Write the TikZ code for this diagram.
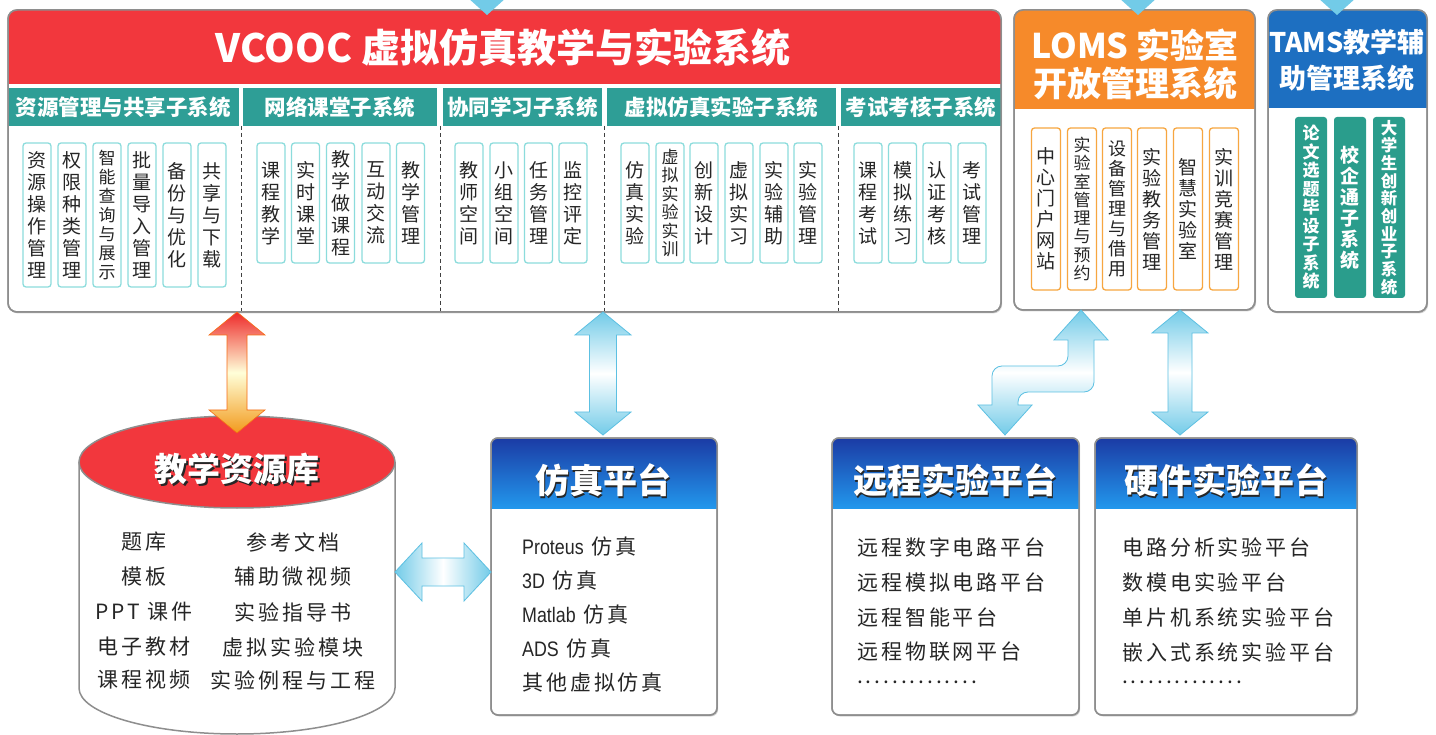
\documentclass[tikz,border=0pt]{standalone}
\usepackage{fontspec}
\setmainfont{Noto Sans CJK SC}
\newfontfamily\spaced{Noto Sans CJK SC}[LetterSpace=14]
\newfontfamily\latn{Liberation Sans}[FakeStretch=0.85]
\usetikzlibrary{calc,shadows}

\XeTeXlinebreaklocale "zh"
\XeTeXlinebreakskip=0pt plus 1pt

\definecolor{vred}{HTML}{F2373D}
\definecolor{bandteal}{HTML}{2E9E96}
\definecolor{subcyan}{HTML}{8CDCDC}
\definecolor{lomsorange}{HTML}{F68A2A}
\definecolor{lomsline}{HTML}{F7A640}
\definecolor{tamsblue}{HTML}{1D6FC1}
\definecolor{tamsteal}{HTML}{2A9D8C}
\definecolor{platdark}{HTML}{1B3BA5}
\definecolor{platlight}{HTML}{2297EC}
\definecolor{flowblue}{HTML}{72CBE8}
\definecolor{flowline}{HTML}{5CC0E2}
\definecolor{flowred}{HTML}{EE2A2A}
\definecolor{floworange}{HTML}{F29A1C}
\definecolor{boxgray}{HTML}{8E8E8E}
\definecolor{ink}{HTML}{262626}

\newcommand{\shtxt}[1]{\makebox[0pt][l]{\hspace{1.8pt}\raisebox{-1.8pt}{\color{black!85}#1}}#1}

% fat two-headed arrows: style, half shaft, first tip, second tip
\newcommand{\vfat}[4]{%
  \path[#1] let \p1=#3, \p2=#4 in
    (\x1,\y1) -- (\x1+28pt,\y1-23pt) -- (\x1+#2,\y1-23pt) -- (\x1+#2,\y2+23pt)
    -- (\x1+28pt,\y2+23pt) -- (\x1,\y2) -- (\x1-28pt,\y2+23pt) -- (\x1-#2,\y2+23pt)
    -- (\x1-#2,\y1-23pt) -- (\x1-28pt,\y1-23pt) -- cycle;}
\newcommand{\hfat}[4]{%
  \path[#1] let \p1=#3, \p2=#4 in
    (\x1,\y1) -- (\x1+27pt,\y1+29pt) -- (\x1+27pt,\y1+#2) -- (\x2-27pt,\y1+#2)
    -- (\x2-27pt,\y1+29pt) -- (\x2,\y1) -- (\x2-27pt,\y1-29pt) -- (\x2-27pt,\y1-#2)
    -- (\x1+27pt,\y1-#2) -- (\x1+27pt,\y1-29pt) -- cycle;}

\begin{document}
\begin{tikzpicture}[x=1pt, y=-1pt,
    panel/.style={draw=boxgray, line width=1.5pt, fill=white, rounded corners=9pt,
      inner sep=0pt, outer sep=0pt,
      drop shadow={shadow xshift=1.2pt, shadow yshift=-1.5pt, opacity=0.3}},
    boxline/.style={draw=boxgray, line width=1.5pt},
    band/.style={fill=bandteal, text=white, font=\bfseries\fontsize{21.5}{24}\selectfont,
      minimum height=38pt, inner sep=0pt, outer sep=0pt},
    divider/.style={draw=black!75, line width=1pt, dash pattern=on 4pt off 3pt},
    sub/.style={draw=subcyan, line width=1.3pt, fill=white, rounded corners=3pt,
      minimum width=28pt, minimum height=120pt, inner sep=0pt, text width=20pt,
      align=center, text=ink, font=\fontsize{19}{22}\selectfont},
    subtall/.style={sub, minimum height=144pt},
    lomsub/.style={sub, draw=lomsline, minimum width=29pt, minimum height=162pt,
      font=\fontsize{19}{21}\selectfont},
    tamsub/.style={sub, draw=none, fill=tamsteal, text=white, minimum width=32pt,
      minimum height=181pt, font=\bfseries\fontsize{17}{18.5}\selectfont},
    htitle/.style={text=white, font=\bfseries\fontsize{34}{38}\selectfont,
      align=center, inner sep=0pt},
    ptitle/.style={text=white, font=\bfseries\fontsize{34}{36}\selectfont, inner sep=0pt},
    pitem/.style={anchor=west, inner sep=0pt, text=ink, font=\spaced\fontsize{21}{24}\selectfont},
    dbitem/.style={inner sep=0pt, text=ink, font=\spaced\fontsize{21}{24}\selectfont},
    blueflow/.style={draw=flowline, line width=0.8pt, top color=flowblue,
      bottom color=flowblue, middle color=white},
    hblueflow/.style={draw=flowline, line width=0.8pt, left color=flowblue,
      right color=flowblue, middle color=white},
    redflow/.style={draw=floworange!70!red, line width=0.6pt, top color=flowred,
      bottom color=floworange, middle color=white!85!yellow}]

    \useasboundingbox (0,0) rectangle (1436,735);
    \clip (0,0) rectangle (1436,735);
    \fill[white] (0,0) rectangle (1436,735);

    % VCOOC
    \node[panel, minimum width=993pt, minimum height=302pt] (vcooc) at (504.5,161) {};
    \begin{scope}
        \clip[rounded corners=9pt] (vcooc.north west) rectangle (vcooc.south east);
        \fill[vred] (vcooc.north west) rectangle ($(vcooc.north east)+(0,74)$);
    \end{scope}
    \node[text=white, font=\bfseries\fontsize{39}{42}\selectfont, inner sep=0pt] (vcoocT)
        at (503,48) {VCOOC 虚拟仿真教学与实验系统};
    \node[band, minimum width=231pt] (bandA) at (123.5,107) {资源管理与共享子系统};
    \node[band, minimum width=194pt] (bandB) at (340,107) {网络课堂子系统};
    \node[band, minimum width=159pt] (bandC) at (522.5,107) {协同学习子系统};
    \node[band, minimum width=229pt] (bandD) at (721.5,107) {虚拟仿真实验子系统};
    \node[band, minimum width=160pt] (bandE) at (921,107) {考试考核子系统};
    \draw[boxline, rounded corners=9pt] (vcooc.north west) rectangle (vcooc.south east);
    \draw[divider] ($(bandA.south east)!0.5!(bandB.south west)$) -- ++(0,185);
    \draw[divider] ($(bandB.south east)!0.5!(bandC.south west)$) -- ++(0,185);
    \draw[divider] ($(bandC.south east)!0.5!(bandD.south west)$) -- ++(0,185);
    \draw[divider] ($(bandD.south east)!0.5!(bandE.south west)$) -- ++(0,185);

    % resources
    \node[subtall] (s11) at (37,215) {资源操作管理};
    \node[subtall] (s12) at (72,215) {权限种类管理};
    \node[subtall, font=\fontsize{17}{19}\selectfont] (s13) at (107,215) {智能查询与展示};
    \node[subtall] (s14) at (142,215) {批量导入管理};
    \node[subtall] (s15) at (177,215) {备份与优化};
    \node[subtall] (s16) at (212,215) {共享与下载};
    % classroom
    \node[sub] (s21) at (271,203) {课程教学};
    \node[sub] (s22) at (305.5,203) {实时课堂};
    \node[sub] (s23) at (340.5,203) {教学做课程};
    \node[sub] (s24) at (376,203) {互动交流};
    \node[sub] (s25) at (410.5,203) {教学管理};
    % cooperation
    \node[sub] (s31) at (469,203) {教师空间};
    \node[sub] (s32) at (504,203) {小组空间};
    \node[sub] (s33) at (538.5,203) {任务管理};
    \node[sub] (s34) at (573,203) {监控评定};
    % virtual lab
    \node[sub] (s41) at (635,203) {仿真实验};
    \node[sub, font=\fontsize{17}{18.5}\selectfont] (s42) at (670,203) {虚拟实验实训};
    \node[sub] (s43) at (704,203) {创新设计};
    \node[sub] (s44) at (739,203) {虚拟实习};
    \node[sub] (s45) at (774,203) {实验辅助};
    \node[sub] (s46) at (808,203) {实验管理};
    % exams
    \node[sub] (s51) at (868,203) {课程考试};
    \node[sub] (s52) at (902.5,203) {模拟练习};
    \node[sub] (s53) at (937,203) {认证考核};
    \node[sub] (s54) at (972,203) {考试管理};

    % LOMS
    \node[panel, minimum width=241pt, minimum height=300pt] (loms) at (1134.5,160) {};
    \begin{scope}
        \clip[rounded corners=9pt] (loms.north west) rectangle (loms.south east);
        \fill[lomsorange] (loms.north west) rectangle ($(loms.north east)+(0,99)$);
    \end{scope}
    \draw[boxline, rounded corners=9pt] (loms.north west) rectangle (loms.south east);
    \node[htitle] (lomsT) at (1135,64) {LOMS 实验室\\开放管理系统};
    \node[lomsub] (l1) at (1046,209) {中心门户网站};
    \node[lomsub, font=\fontsize{17}{18.3}\selectfont] (l2) at (1082,209) {实验室管理与预约};
    \node[lomsub, font=\fontsize{18}{20}\selectfont] (l3) at (1117,209) {设备管理与借用};
    \node[lomsub] (l4) at (1152,209) {实验教务管理};
    \node[lomsub] (l5) at (1188,209) {智慧实验室};
    \node[lomsub] (l6) at (1224,209) {实训竞赛管理};

    % TAMS
    \node[panel, minimum width=159pt, minimum height=302pt] (tams) at (1347.5,161) {};
    \begin{scope}
        \clip[rounded corners=9pt] (tams.north west) rectangle (tams.south east);
        \fill[tamsblue] (tams.north west) rectangle ($(tams.north east)+(0,98)$);
    \end{scope}
    \draw[boxline, rounded corners=9pt] (tams.north west) rectangle (tams.south east);
    \node[htitle, font=\bfseries\fontsize{27}{36}\selectfont] (tamsT) at (1347,60) {TAMS教学辅\\助管理系统};
    \node[tamsub] (t1) at (1311,207.5) {论文选题毕设子系统};
    \node[tamsub, font=\bfseries\fontsize{19}{21}\selectfont] (t2) at (1350,207.5) {校企通子系统};
    \node[tamsub, font=\bfseries\fontsize{16.5}{17.7}\selectfont] (t3) at (1389,207.5) {大学生创新创业子系统};

    % resource library
    \draw[boxline, fill=white] (79,462) -- (79,688)
        arc[start angle=180, end angle=360, x radius=158pt, y radius=46pt] -- (395,462);
    \draw[boxline, fill=vred] (237,462) ellipse [x radius=158pt, y radius=46pt];
    \node[ptitle, font=\bfseries\fontsize{33}{36}\selectfont] (dbT) at (237,470) {\shtxt{教学资源库}};
    \node[dbitem] (d11) at (144,542) {题库};
    \node[dbitem] (d12) at (144,577) {模板};
    \node[dbitem] (d13) at (144,612) {PPT 课件};
    \node[dbitem] (d14) at (144,647) {电子教材};
    \node[dbitem] (d15) at (144,680) {课程视频};
    \node[dbitem] (d21) at (293,542) {参考文档};
    \node[dbitem] (d22) at (293,577) {辅助微视频};
    \node[dbitem] (d23) at (293,612) {实验指导书};
    \node[dbitem] (d24) at (293,647) {虚拟实验模块};
    \node[dbitem] (d25) at (293,680) {实验例程与工程};

    % simulation platform
    \node[panel, rounded corners=7pt, minimum width=226pt, minimum height=277pt] (sim) at (604,576.5) {};
    \begin{scope}
        \clip[rounded corners=7pt] (sim.north west) rectangle (sim.south east);
        \shade[top color=platdark, bottom color=platlight] (sim.north west) rectangle ($(sim.north east)+(0,70)$);
    \end{scope}
    \draw[boxline, rounded corners=7pt] (sim.north west) rectangle (sim.south east);
    \node[ptitle] (simT) at (603,481) {\shtxt{仿真平台}};
    \node[pitem] (sim1) at (522,547) {{\latn Proteus} 仿真};
    \node[pitem] (sim2) at (522,581) {{\latn 3D} 仿真};
    \node[pitem] (sim3) at (522,615) {{\latn Matlab} 仿真};
    \node[pitem] (sim4) at (522,649) {{\latn ADS} 仿真};
    \node[pitem] (sim5) at (522,683) {其他虚拟仿真};

    % remote platform
    \node[panel, rounded corners=7pt, minimum width=247pt, minimum height=277pt] (remote) at (955.5,576.5) {};
    \begin{scope}
        \clip[rounded corners=7pt] (remote.north west) rectangle (remote.south east);
        \shade[top color=platdark, bottom color=platlight] (remote.north west) rectangle ($(remote.north east)+(0,70)$);
    \end{scope}
    \draw[boxline, rounded corners=7pt] (remote.north west) rectangle (remote.south east);
    \node[ptitle] (remoteT) at (955,481) {\shtxt{远程实验平台}};
    \node[pitem] (rem1) at (857,547) {远程数字电路平台};
    \node[pitem] (rem2) at (857,582) {远程模拟电路平台};
    \node[pitem] (rem3) at (857,617) {远程智能平台};
    \node[pitem] (rem4) at (857,652) {远程物联网平台};
    \node[pitem] (rem5) at (857,682) {..............};

    % hardware platform
    \node[panel, rounded corners=7pt, minimum width=262pt, minimum height=277pt] (hw) at (1226,576.5) {};
    \begin{scope}
        \clip[rounded corners=7pt] (hw.north west) rectangle (hw.south east);
        \shade[top color=platdark, bottom color=platlight] (hw.north west) rectangle ($(hw.north east)+(0,70)$);
    \end{scope}
    \draw[boxline, rounded corners=7pt] (hw.north west) rectangle (hw.south east);
    \node[ptitle] (hwT) at (1226,481) {\shtxt{硬件实验平台}};
    \node[pitem] (hw1) at (1122,547) {电路分析实验平台};
    \node[pitem] (hw2) at (1122,582) {数模电实验平台};
    \node[pitem] (hw3) at (1122,617) {单片机系统实验平台};
    \node[pitem] (hw4) at (1122,652) {嵌入式系统实验平台};
    \node[pitem] (hw5) at (1122,682) {..............};

    % links
    \coordinate (dbTip) at (237,433);
    \coordinate (dbSide) at (395,572);
    \coordinate (simTip) at (603,435);
    \coordinate (hwTip) at (1180,435);
    \coordinate (zTop) at (1081,310);
    \coordinate (zBot) at (1005,435);
    \coordinate (inVC) at (487,15);
    \coordinate (inLO) at (1138,15);
    \coordinate (inTA) at (1337,15);

    \vfat{redflow}{10pt}{(dbTip |- vcooc.south)}{(dbTip)}
    \vfat{blueflow}{13.5pt}{(simTip |- vcooc.south)}{(simTip)}
    \vfat{blueflow}{12pt}{(hwTip |- loms.south)}{(hwTip)}
    \hfat{hblueflow}{14pt}{(dbSide)}{(sim.west |- dbSide)}
    \path[blueflow] let \p1=(zTop), \p2=(zBot) in
        (\x1,\y1) -- (\x1+27pt,\y1-30pt) -- (\x1+13pt,\y1-30pt) [rounded corners=10pt]
        -- (\x1+13pt,\y1-82pt) -- (\x2+13pt,\y1-82pt) [sharp corners]
        -- (\x2+13pt,\y2+30pt) -- (\x2+27pt,\y2+30pt) -- (\x2,\y2) -- (\x2-27pt,\y2+30pt)
        -- (\x2-13pt,\y2+30pt) [rounded corners=10pt] -- (\x2-13pt,\y1-56pt)
        -- (\x1-13pt,\y1-56pt) [sharp corners] -- (\x1-13pt,\y1-30pt) -- (\x1-27pt,\y1-30pt) -- cycle;

    \fill[flowblue] ($(inVC)+(-30,-27)$) -- (inVC) -- ($(inVC)+(30,-27)$) -- cycle;
    \fill[flowblue] ($(inLO)+(-30,-27)$) -- (inLO) -- ($(inLO)+(30,-27)$) -- cycle;
    \fill[flowblue] ($(inTA)+(-30,-27)$) -- (inTA) -- ($(inTA)+(30,-27)$) -- cycle;
\end{tikzpicture}
\end{document}
